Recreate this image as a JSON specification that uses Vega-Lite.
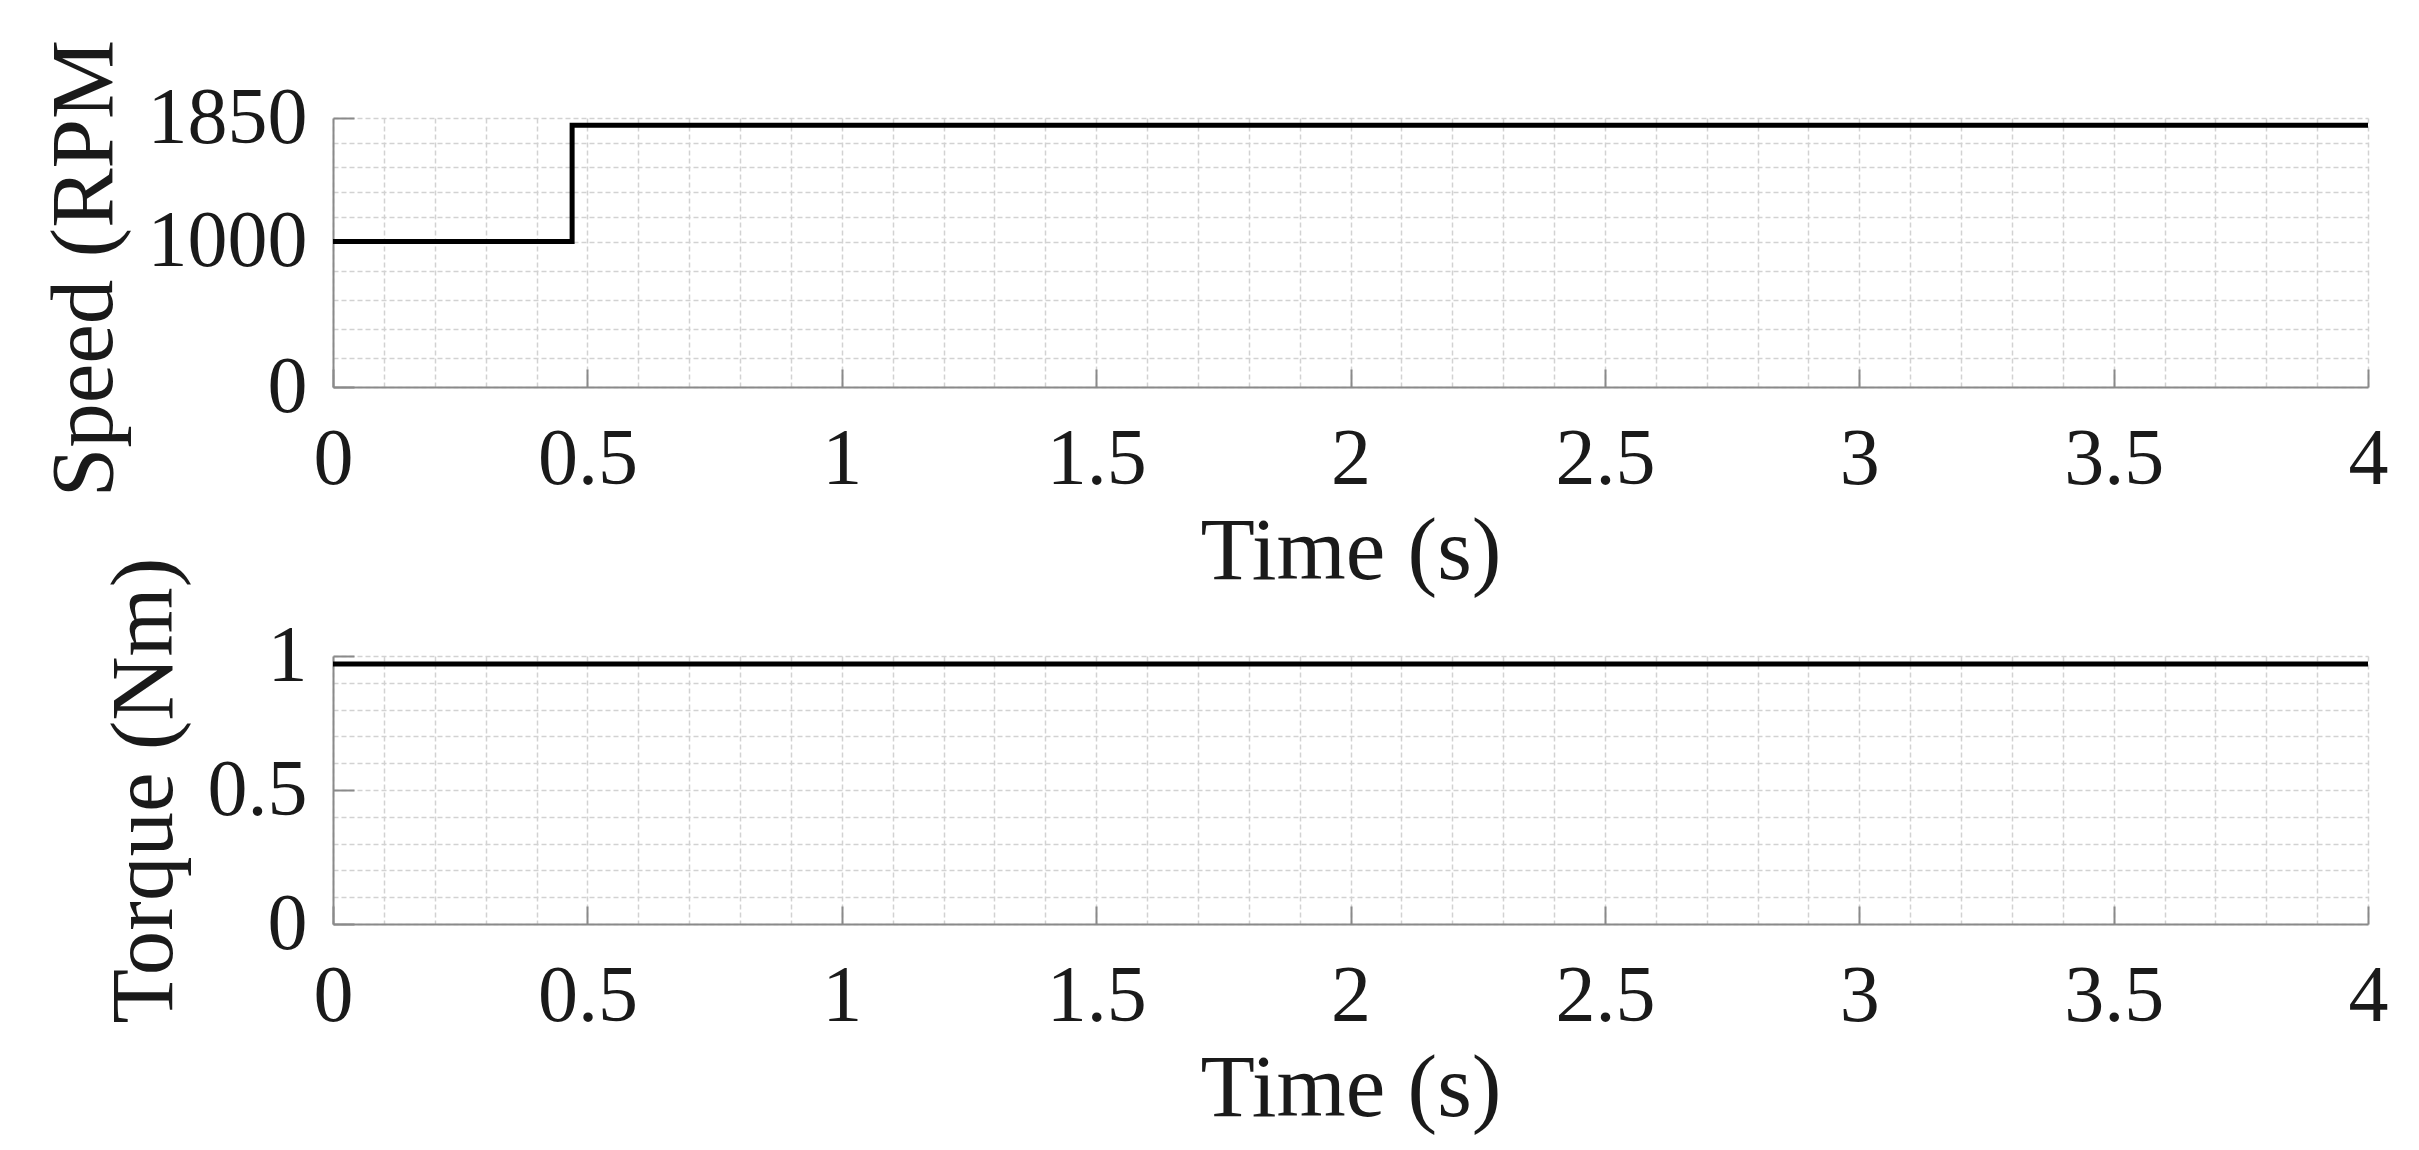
{
  "$schema": "https://vega.github.io/schema/vega-lite/v6.json",
  "autosize": {"type": "none"},
  "padding": {"left": 333, "top": 118, "right": 2086, "bottom": 1032},
  "background": "white",
  "bounds": "flush",
  "spacing": 269,
  "config": {
    "view": {"stroke": null},
    "font": "Liberation Serif",
    "axis": {
      "labelFont": "Liberation Serif",
      "titleFont": "Liberation Serif",
      "labelFontSize": 80,
      "titleFontSize": 89,
      "labelColor": "#1a1a1a",
      "titleColor": "#1a1a1a",
      "titleFontWeight": "normal",
      "domainColor": "#8a8a8a",
      "domainWidth": 2,
      "tickColor": "#8a8a8a",
      "tickWidth": 2,
      "gridColor": "#d2d2d2",
      "gridDash": [5, 3],
      "gridWidth": 1.5,
      "labelFlush": false,
      "labelOverlap": false,
      "labelBound": false,
      "labelLimit": 500
    }
  },
  "datasets": {
    "speed": [
      {"time": 0, "rpm": 1000},
      {"time": 0.47, "rpm": 1800},
      {"time": 4, "rpm": 1800}
    ],
    "torque": [
      {"time": 0, "nm": 0.97},
      {"time": 4, "nm": 0.97}
    ]
  },
  "vconcat": [
    {
      "width": 2035,
      "height": 269,
      "data": {"name": "speed"},
      "mark": {"type": "line", "interpolate": "step-after", "color": "black", "strokeWidth": 5, "strokeCap": "butt", "clip": false},
      "encoding": {
        "x": {
          "field": "time",
          "type": "quantitative",
          "scale": {"domain": [0, 4], "nice": false, "zero": false},
          "axis": {
            "title": "Time (s)",
            "values": [0,0.1,0.2,0.3,0.4,0.5,0.6,0.7,0.8,0.9,1,1.1,1.2,1.3,1.4,1.5,1.6,1.7,1.8,1.9,2,2.1,2.2,2.3,2.4,2.5,2.6,2.7,2.8,2.9,3,3.1,3.2,3.3,3.4,3.5,3.6,3.7,3.8,3.9,4],
            "format": "~g",
            "labelExpr": "abs(datum.value*2-round(datum.value*2))<0.001 ? datum.label : ''",
            "tickOpacity": {"condition": {"test": "abs(datum.value*2-round(datum.value*2))<0.001", "value": 1}, "value": 0},
            "tickSize": -18,
            "labelPadding": 51,
            "titlePadding": 9
          }
        },
        "y": {
          "field": "rpm",
          "type": "quantitative",
          "scale": {"domain": [0, 1850], "nice": false},
          "axis": {
            "title": "Speed (RPM",
            "titleY": 150,
            "values": [0,200,400,600,800,1000,1170,1340,1510,1680,1850],
            "format": "d",
            "labelExpr": "(datum.value==0||datum.value==1000||datum.value==1850) ? datum.label : ''",
            "tickOpacity": {"condition": {"test": "datum.value==0||datum.value==1000||datum.value==1850", "value": 1}, "value": 0},
            "tickSize": -21,
            "labelPadding": 47,
            "titlePadding": 17
          }
        }
      }
    },
    {
      "width": 2035,
      "height": 268,
      "data": {"name": "torque"},
      "mark": {"type": "line", "color": "black", "strokeWidth": 5, "strokeCap": "butt", "clip": false},
      "encoding": {
        "x": {
          "field": "time",
          "type": "quantitative",
          "scale": {"domain": [0, 4], "nice": false, "zero": false},
          "axis": {
            "title": "Time (s)",
            "values": [0,0.1,0.2,0.3,0.4,0.5,0.6,0.7,0.8,0.9,1,1.1,1.2,1.3,1.4,1.5,1.6,1.7,1.8,1.9,2,2.1,2.2,2.3,2.4,2.5,2.6,2.7,2.8,2.9,3,3.1,3.2,3.3,3.4,3.5,3.6,3.7,3.8,3.9,4],
            "format": "~g",
            "labelExpr": "abs(datum.value*2-round(datum.value*2))<0.001 ? datum.label : ''",
            "tickOpacity": {"condition": {"test": "abs(datum.value*2-round(datum.value*2))<0.001", "value": 1}, "value": 0},
            "tickSize": -18,
            "labelPadding": 51,
            "titlePadding": 9
          }
        },
        "y": {
          "field": "nm",
          "type": "quantitative",
          "scale": {"domain": [0, 1], "nice": false},
          "axis": {
            "title": "Torque (Nm)",
            "values": [0,0.1,0.2,0.3,0.4,0.5,0.6,0.7,0.8,0.9,1],
            "format": "~g",
            "labelExpr": "abs(datum.value*2-round(datum.value*2))<0.001 ? datum.label : ''",
            "tickOpacity": {"condition": {"test": "abs(datum.value*2-round(datum.value*2))<0.001", "value": 1}, "value": 0},
            "tickSize": -21,
            "labelPadding": 47,
            "titlePadding": 17
          }
        }
      }
    }
  ]
}
